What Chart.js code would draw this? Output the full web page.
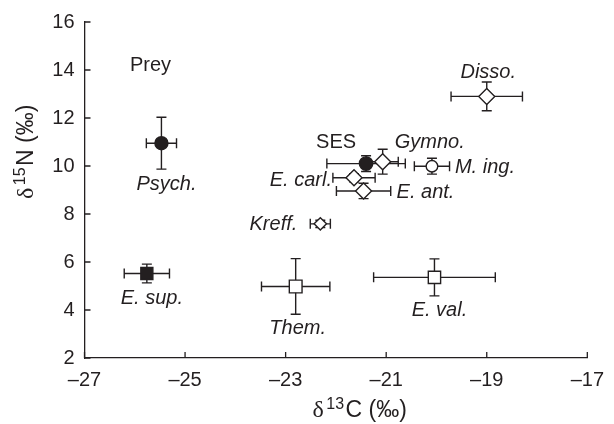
<!DOCTYPE html>
<html><head><meta charset="utf-8">
<script src="https://cdn.jsdelivr.net/npm/chart.js@4"></script>
<style>html,body{margin:0;padding:0;background:#fff}canvas{display:block}</style>
</head><body>
<canvas id="c" width="614" height="424"></canvas>
<script>
// ---- data ----
const taxa  = ['Psych.', 'E. sup.', 'Them.', 'Kreff.', 'E. val.', 'SES', 'Gymno.', 'M. ing.', 'E. carl.', 'E. ant.', 'Disso.'];
const d13C  = [-25.47, -25.76, -22.80, -22.31, -20.04, -21.40, -21.07, -20.09, -21.64, -21.45, -19.00];
const d15N  = [10.95, 5.52, 4.98, 7.59, 5.36, 10.10, 10.18, 9.99, 9.51, 8.96, 12.90];
const sdC   = [0.30, 0.45, 0.68, 0.20, 1.21, 0.78, 0.31, 0.35, 0.42, 0.54, 0.71];
const sdN   = [1.08, 0.39, 1.16, 0.15, 0.77, 0.33, 0.52, 0.33, 0.17, 0.32, 0.60];
const xTicks = [-27, -25, -23, -21, -19, -17];
const yTicks = [2, 4, 6, 8, 10, 12, 14, 16];
const groupLabel = 'Prey';
const xTitle = ['δ', '13', 'C (‰)'];
const yTitle = ['δ', '15', 'N (‰)'];

// ---- styles (not data) ----
const markerStyle = ['circle', 'rect', 'rect', 'rectRot', 'rect', 'circle', 'rectRot', 'circle', 'rectRot', 'rectRot', 'rectRot'];
const markerFilled = [true, true, false, false, false, true, false, false, false, false, false];
const markerRadius = [6.5, 8.5, 9, 6.2, 8.7, 6.7, 8, 5.8, 8, 8, 8];
const labelDx = [5, 5, 2, -23, 5, -30, 12, 23, -22, 33, 1.5];
const labelDy = [47, 30, 48, 6, 39, -16, -14, 7, 8, 7, -18];
const labelAlign = ['center', 'center', 'center', 'right', 'center', 'center', 'left', 'left', 'right', 'left', 'center'];
const labelItalic = [true, true, true, true, true, false, true, true, true, true, true];

const FONT = '"Liberation Sans", Arial, sans-serif';
const SERIF = '"Liberation Serif", "DejaVu Serif", serif';
const INK = '#231f20';

const errorBars = {
  id: 'errorBars',
  beforeDatasetsDraw(chart) {
    const {ctx, scales: {x, y}} = chart;
    const cap = 5;
    ctx.save();
    ctx.strokeStyle = INK;
    ctx.lineWidth = 1.4;
    for (let i = 0; i < d13C.length; i++) {
      const px = x.getPixelForValue(d13C[i]);
      const py = y.getPixelForValue(d15N[i]);
      const xl = x.getPixelForValue(d13C[i] - sdC[i]);
      const xr = x.getPixelForValue(d13C[i] + sdC[i]);
      const yt = y.getPixelForValue(d15N[i] + sdN[i]);
      const yb = y.getPixelForValue(d15N[i] - sdN[i]);
      ctx.beginPath();
      ctx.moveTo(xl, py); ctx.lineTo(xr, py);
      ctx.moveTo(xl, py - cap); ctx.lineTo(xl, py + cap);
      ctx.moveTo(xr, py - cap); ctx.lineTo(xr, py + cap);
      ctx.moveTo(px, yt); ctx.lineTo(px, yb);
      ctx.moveTo(px - cap, yt); ctx.lineTo(px + cap, yt);
      ctx.moveTo(px - cap, yb); ctx.lineTo(px + cap, yb);
      ctx.stroke();
    }
    ctx.restore();
  }
};

const innerTicks = {
  id: 'innerTicks',
  afterDraw(chart) {
    const {ctx, chartArea: a, scales: {x, y}} = chart;
    ctx.save();
    ctx.strokeStyle = INK;
    ctx.lineWidth = 1.3;
    ctx.beginPath();
    x.ticks.forEach(t => { const p = x.getPixelForValue(t.value); ctx.moveTo(p, a.bottom); ctx.lineTo(p, a.bottom - 6); });
    y.ticks.forEach(t => { const p = y.getPixelForValue(t.value); ctx.moveTo(a.left, p); ctx.lineTo(a.left + 6, p); });
    ctx.stroke();
    ctx.restore();
  }
};

const annotations = {
  id: 'annotations',
  afterDatasetsDraw(chart) {
    const {ctx, chartArea: a, scales: {x, y}} = chart;
    ctx.save();
    ctx.fillStyle = INK;
    ctx.textBaseline = 'alphabetic';
    for (let i = 0; i < taxa.length; i++) {
      const px = x.getPixelForValue(d13C[i]);
      const py = y.getPixelForValue(d15N[i]);
      ctx.font = (labelItalic[i] ? 'italic ' : '') + '20px ' + FONT;
      ctx.textAlign = labelAlign[i];
      ctx.fillText(taxa[i], px + labelDx[i], py + labelDy[i]);
    }
    ctx.font = '20px ' + FONT;
    ctx.textAlign = 'center';
    ctx.fillText(groupLabel, a.left + 66, a.top + 49);
    ctx.restore();
  }
};

function drawSupTitle(ctx, parts, x0, y0) {
  ctx.textAlign = 'left';
  ctx.textBaseline = 'alphabetic';
  let cx = x0;
  ctx.font = '24px ' + SERIF;
  ctx.fillText(parts[0], cx, y0); cx += ctx.measureText(parts[0]).width + 2.5;
  ctx.font = '16px ' + FONT;
  ctx.fillText(parts[1], cx, y0 - 8); cx += ctx.measureText(parts[1]).width + 1.5;
  ctx.font = '23px ' + FONT;
  ctx.fillText(parts[2], cx, y0);
}

const axisTitles = {
  id: 'axisTitles',
  afterDraw(chart) {
    const {ctx, chartArea: a} = chart;
    ctx.save();
    ctx.fillStyle = INK;
    drawSupTitle(ctx, xTitle, a.left + 228, 417);
    ctx.translate(33, a.top + 177);
    ctx.rotate(-Math.PI / 2);
    drawSupTitle(ctx, yTitle, 0, 0);
    ctx.restore();
  }
};

const fmt = v => (v < 0 ? '\u2013' + Math.abs(v) : String(v));

new Chart(document.getElementById('c'), {
  type: 'scatter',
  data: {
    datasets: [{
      data: d13C.map((v, i) => ({x: v, y: d15N[i]})),
      pointStyle: markerStyle,
      pointRadius: markerRadius,
      pointBackgroundColor: markerFilled.map(f => f ? INK : '#ffffff'),
      pointBorderColor: INK,
      pointBorderWidth: 1.4,
      showLine: false
    }]
  },
  options: {
    responsive: false,
    animation: false,
    events: [],
    layout: {padding: {top: 20, right: 16, bottom: 0, left: 0}},
    plugins: {legend: {display: false}, tooltip: {enabled: false}},
    scales: {
      x: {
        type: 'linear', min: xTicks[0], max: xTicks[xTicks.length - 1],
        afterBuildTicks: s => { s.ticks = xTicks.map(v => ({value: v})); },
        afterFit: s => { s.height = 66; },
        grid: {display: false, drawTicks: false},
        border: {display: true, color: INK, width: 1.3},
        ticks: {callback: fmt, color: INK, padding: 10, maxRotation: 0, autoSkip: false, font: {family: FONT, size: 20}}
      },
      y: {
        type: 'linear', min: yTicks[0], max: yTicks[yTicks.length - 1],
        afterBuildTicks: s => { s.ticks = yTicks.map(v => ({value: v})); },
        afterFit: s => { s.width = 84.5; },
        grid: {display: false, drawTicks: false},
        border: {display: true, color: INK, width: 1.3},
        ticks: {callback: fmt, color: INK, padding: 10, autoSkip: false, font: {family: FONT, size: 20}}
      }
    }
  },
  plugins: [errorBars, innerTicks, annotations, axisTitles]
});
</script>
</body></html>
